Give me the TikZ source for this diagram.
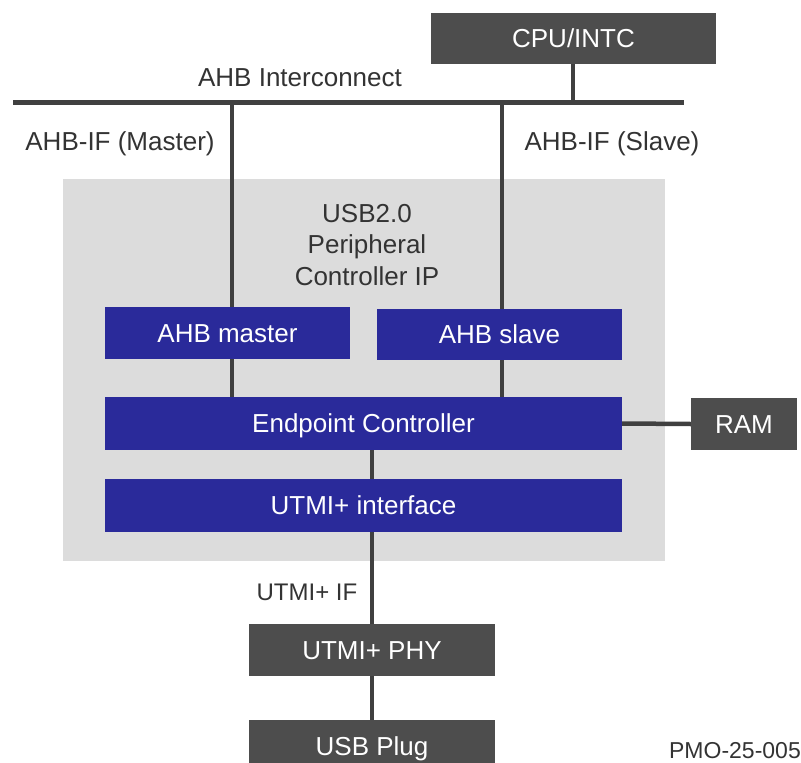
\documentclass[tikz,border=0pt]{standalone}
\usepackage{fontspec}
\setmainfont{Liberation Sans}
\usepackage{tikz}
\usetikzlibrary{backgrounds}

\definecolor{ipblue}{HTML}{2A2A9A}
\definecolor{extgray}{HTML}{4D4D4D}
\definecolor{wiregray}{HTML}{404040}
\definecolor{ipfill}{HTML}{DCDCDC}
\definecolor{labelgray}{HTML}{333333}

\begin{document}
\begin{tikzpicture}[x=1pt,y=-1pt,
		ipblock/.style={fill=ipblue,text=white,inner sep=0pt,text height=18.6pt,text depth=0pt,font=\fontsize{26}{31}\selectfont},
		extblock/.style={fill=extgray,text=white,inner sep=0pt,text height=18.6pt,text depth=0pt,font=\fontsize{26}{31}\selectfont},
		wire/.style={draw=wiregray,line width=4.5pt},
		buslabel/.style={text=labelgray,inner sep=0pt,text height=18.6pt,text depth=0pt,font=\fontsize{26}{31}\selectfont}]
		\useasboundingbox (0,0) rectangle (801,763);
		% IP core area
		\fill[ipfill] (63,179) rectangle (665,561);
		\node[text=labelgray,inner sep=0pt,align=center,font=\fontsize{26}{31.5}\selectfont] (iptitle) at (367,245) {USB2.0\\Peripheral\\Controller IP};
		% blocks
		\node[extblock,minimum width=285pt,minimum height=51pt] (cpu) at (573.5,38.5) {CPU/INTC};
		\node[ipblock,minimum width=245pt,minimum height=52pt] (master) at (227.5,333) {AHB master};
		\node[ipblock,minimum width=245pt,minimum height=51pt] (slave) at (499.5,334.5) {AHB slave};
		\node[ipblock,minimum width=517pt,minimum height=53pt] (ep) at (363.5,423.5) {Endpoint Controller};
		\node[ipblock,minimum width=517pt,minimum height=53pt] (utmi) at (363.5,505.5) {UTMI+ interface};
		\node[extblock,minimum width=106pt,minimum height=52pt] (ram) at (744,424) {RAM};
		\node[extblock,minimum width=246pt,minimum height=52pt] (phy) at (372,650) {UTMI+ PHY};
		\node[extblock,minimum width=246pt,minimum height=52pt] (plug) at (372,746) {USB Plug};
		% AHB bus
		\coordinate (busL) at (13,102);
		\coordinate (busR) at (684,102);
		\coordinate (mtap) at (232,102);
		\coordinate (stap) at (502,102);
		\coordinate (ctap) at (573,102);
		\draw[wiregray,line width=5pt] (busL) -- (busR);
		\draw[wire] (cpu.south -| ctap) -- (ctap);
		\draw[wire] (mtap) -- (mtap |- master.north);
		\draw[wire] (master.south -| mtap) -- (ep.north -| mtap);
		\draw[wire] (stap) -- (stap |- slave.north);
		\draw[wire] (slave.south -| stap) -- (ep.north -| stap);
		\draw[wire] (ep.east) -- (ram.west);
		\draw[wire] (ep.south -| phy.north) -- (utmi.north -| phy.north);
		\draw[wire] (utmi.south -| phy.north) -- (phy.north);
		\draw[wire] (phy.south) -- (plug.north);
		% labels
		\node[buslabel] (ahblbl) at (300,77) {AHB Interconnect};
		\node[buslabel] (mlbl) at (120,141) {AHB-IF (Master)};
		\node[buslabel] (slbl) at (612,141) {AHB-IF (Slave)};
		\node[buslabel,text height=17.2pt,font=\fontsize{24}{29}\selectfont] (ulbl) at (307,592) {UTMI+ IF};
		\node[buslabel,text height=16.5pt,anchor=east,font=\fontsize{23}{27}\selectfont] (pmo) at (801,750) {PMO-25-005};
	\end{tikzpicture}
\end{document}
